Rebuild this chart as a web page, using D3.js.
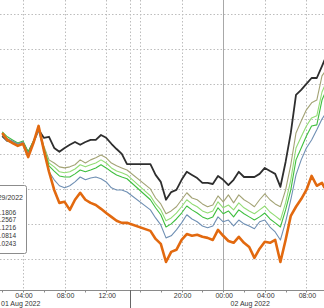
<!DOCTYPE html>
<html>
<head>
<meta charset="utf-8">
<script src="https://cdn.jsdelivr.net/npm/d3@7"></script>
<style>
  body { margin: 0; background: #fff; }
  svg { display: block; }
</style>
</head>
<body>
<div id="chart"></div>
<script>
// hours since 01 Aug 2022 00:00 (no prints between 14:00 and 17:00)
var hours = [2, 2.5, 3, 3.5, 4, 4.5, 5, 5.5, 6, 6.5, 7, 7.5, 8, 8.5, 9, 9.5, 10, 10.5, 11, 11.5, 12, 12.5, 13, 13.5, 14,
    17, 17.5, 18, 18.5, 19, 19.5, 20, 20.5, 21, 21.5, 22, 22.5, 23, 23.5, 24, 24.5, 25, 25.5, 26, 26.5, 27, 27.5,
    28, 28.5, 29, 29.5, 30, 30.5, 31, 31.5, 32, 32.5, 33, 33.5, 33.75];

// change in bp
var blackSeries = [5.1, 3.7, 3.4, 2.6, 3.1, 0.3, 3.4, 6.9, 4.6, 4.9, 1.7, 0.6, 1.7, 2.6, 3.4, 2.6, 3.4, 4.0, 4.0, 5.4, 4.6, 2.9, 1.4, 0, -2.9,
    -2.9, -6.0, -8.0, -13.1, -10.9, -10.3, -7.4, -5.1, -6.0, -6.9, -8.3, -8.3, -8.6, -6.3, -7.4, -8.9, -7.4, -5.1, -6.6, -6.6, -6.6, -5.7,
    -4.0, -4.9, -5.7, -9.4, -2.3, 6.0, 16.9, 18.3, 20.0, 21.7, 21.7, 25.1, 26.9];
var oliveSeries = [5.4, 3.7, 3.1, 2.3, 3.1, -0.3, 3.1, 7.4, 2.3, -1.7, -2.6, -3.7, -4.0, -3.7, -3.1, -1.7, -2.6, -1.7, -1.1, -0.3, -1.1, -2.6, -3.4, -4.0, -4.6,
    -10.0, -12.6, -14.3, -17.1, -16.3, -15.1, -13.1, -11.1, -12.6, -13.1, -14.3, -15.1, -14.6, -12.0, -13.7, -11.7, -14.0, -11.7, -13.1, -14.0, -15.1, -13.1,
    -11.4, -13.1, -14.3, -15.1, -10.3, -3.1, 6.0, 9.4, 12.6, 14.6, 15.4, 22.3, 23.4];
var lightGreenSeries = [5.7, 4.0, 3.4, 2.6, 3.4, 0, 3.4, 7.1, 2.0, -2.6, -3.7, -5.1, -5.4, -5.1, -4.3, -3.1, -3.7, -3.1, -2.6, -1.7, -2.6, -4.0, -4.9, -5.4, -6.0,
    -12.0, -14.3, -16.0, -19.1, -18.3, -16.9, -15.1, -13.1, -14.3, -15.1, -16.3, -16.9, -16.3, -13.7, -15.4, -14.6, -16.0, -14.0, -15.4, -16.3, -17.1, -16.0,
    -14.9, -16.6, -17.7, -18.9, -14.0, -7.4, 1.7, 4.9, 8.0, 10.3, 10.9, 17.7, 19.4];
var greenSeries = [6.3, 4.9, 4.0, 3.1, 3.7, 0.6, 3.7, 6.9, 1.7, -3.4, -4.9, -6.3, -6.6, -6.6, -5.7, -4.6, -5.1, -4.6, -4.0, -3.1, -4.0, -5.1, -6.0, -6.6, -7.1,
    -13.1, -15.4, -17.4, -20.9, -20.0, -18.6, -16.9, -14.9, -16.0, -16.9, -18.0, -18.6, -18.0, -15.4, -17.1, -16.3, -18.0, -16.0, -17.1, -18.0, -18.9, -18.0,
    -16.9, -18.6, -19.7, -20.9, -16.0, -10.3, -1.7, 1.7, 5.1, 8.0, 8.3, 15.4, 17.1];
var blueSeries = [5.7, 4.3, 3.7, 2.9, 3.4, 0, 3.4, 6.6, 1.1, -5.1, -7.4, -9.1, -9.7, -9.1, -8.0, -6.6, -7.4, -6.9, -6.6, -7.1, -8.0, -9.7, -10.3, -10.3, -10.9,
    -16.0, -18.3, -20.3, -24.0, -23.4, -21.7, -19.7, -17.4, -18.6, -19.4, -20.6, -21.1, -20.6, -18.0, -19.4, -18.9, -20.6, -18.9, -20.0, -20.6, -21.4, -19.4,
    -18.9, -20.9, -22.3, -24.6, -19.4, -13.1, -6.0, -1.7, 1.7, 4.0, 6.9, 10.0, 11.1];
var orangeSeries = [6.0, 4.0, 3.1, 2.3, 2.9, -0.9, 3.1, 8.0, 1.1, -5.1, -10.3, -14.0, -13.7, -16.0, -13.1, -11.1, -13.1, -14.0, -14.6, -15.7, -16.9, -18.0, -19.1, -19.7, -19.7,
    -22.0, -24.3, -25.7, -30.9, -28.0, -27.4, -24.6, -22.9, -23.4, -23.1, -23.7, -24.0, -24.6, -21.7, -23.4, -24.9, -25.4, -23.7, -25.4, -26.6, -29.7, -27.1,
    -25.1, -25.4, -24.6, -30.9, -24.6, -17.7, -15.1, -12.9, -10.3, -6.3, -9.1, -8.3, -9.7];

var seriesColors = ["#2e2e2e", "#a3a375", "#92dc74", "#3fbf3f", "#6f8fb3", "#e2690f"];
var seriesWidths = [1.8, 1.1, 1.1, 1.1, 1.1, 2.6];

// x axis labels
var tickHours = [4, 8, 12, 20, 24, 28, 32];
var tickLabels = ["04:00", "08:00", "12:00", "20:00", "00:00", "04:00", "08:00"];
var dateLabels = ["01 Aug 2022", "02 Aug 2022"];

// legend (left part is cut off in the original)
var legendTitle = "07/29/2022";
var legendValues = ["3.1806", "3.2567", "3.1216", "3.0814", "3.0243"];

function drawChart() {
    var svgWidth = 324;
    var svgHeight = 308;
    var axisY = 290;

    var svg = d3.select("#chart")
        .append("svg")
        .attr("width", svgWidth)
        .attr("height", svgHeight)
        .style("font-family", "'Liberation Sans', Arial, sans-serif");

    svg.append("rect")
        .attr("width", svgWidth)
        .attr("height", svgHeight)
        .attr("fill", "#fff");

    // session gap is squeezed between 14:15 and 16:00
    var x = d3.scaleLinear()
        .domain([0, 14.25, 16, 34])
        .range([-18.6, 129.6, 140, 327.2]);

    var y = d3.scaleLinear()
        .domain([-38.9, 44])
        .range([axisY, 0]);

    // horizontal grid
    svg.append("g")
        .selectAll("line")
        .data([-30, -20, -10, 0, 10, 20, 30, 40])
        .enter()
        .append("line")
        .attr("x1", 0)
        .attr("x2", svgWidth)
        .attr("y1", d => Math.round(y(d)) + 0.5)
        .attr("y2", d => Math.round(y(d)) + 0.5)
        .attr("stroke", "#bdbdbd")
        .attr("stroke-dasharray", "1.5,2");

    // vertical grid
    var gridHours = [4, 8, 12, 14.25, 16, 20, 28, 32];
    svg.append("g")
        .selectAll("line")
        .data(gridHours)
        .enter()
        .append("line")
        .attr("x1", d => Math.round(x(d)) + 0.5)
        .attr("x2", d => Math.round(x(d)) + 0.5)
        .attr("y1", 0)
        .attr("y2", axisY)
        .attr("stroke", "#bdbdbd")
        .attr("stroke-dasharray", "1.5,2");

    // day break at midnight
    svg.append("line")
        .attr("x1", Math.round(x(24)) + 0.5)
        .attr("x2", Math.round(x(24)) + 0.5)
        .attr("y1", 0)
        .attr("y2", axisY)
        .attr("stroke", "#a8a8a8");

    // lines
    var line = d3.line()
        .x((d, i) => x(hours[i]))
        .y(d => y(d));

    var allSeries = [blackSeries, oliveSeries, lightGreenSeries, greenSeries, blueSeries, orangeSeries];
    svg.append("g")
        .selectAll("path")
        .data(allSeries)
        .enter()
        .append("path")
        .attr("d", line)
        .attr("fill", "none")
        .attr("stroke", (d, i) => seriesColors[i])
        .attr("stroke-width", (d, i) => seriesWidths[i])
        .attr("stroke-linejoin", "round");

    // x axis
    svg.append("line")
        .attr("x1", 0)
        .attr("x2", svgWidth)
        .attr("y1", axisY + 0.5)
        .attr("y2", axisY + 0.5)
        .attr("stroke", "#8a8a8a");

    svg.append("g")
        .selectAll("line")
        .data(d3.range(2, 34, 2).filter(h => h < 14 || h > 15))
        .enter()
        .append("line")
        .attr("x1", d => Math.round(x(d)) + 0.5)
        .attr("x2", d => Math.round(x(d)) + 0.5)
        .attr("y1", axisY)
        .attr("y2", axisY + 2.5)
        .attr("stroke", "#8a8a8a");

    svg.append("line")
        .attr("x1", Math.round(x(14.25)) + 0.5)
        .attr("x2", Math.round(x(14.25)) + 0.5)
        .attr("y1", axisY)
        .attr("y2", svgHeight)
        .attr("stroke", "#666");

    svg.append("g")
        .selectAll("text")
        .data(tickHours)
        .enter()
        .append("text")
        .attr("x", d => x(d) + 1)
        .attr("y", 297.5)
        .attr("text-anchor", "middle")
        .attr("font-size", "7px")
        .attr("fill", "#333")
        .text((d, i) => tickLabels[i]);

    svg.append("text")
        .attr("x", 1)
        .attr("y", 306)
        .attr("font-size", "7px")
        .attr("fill", "#333")
        .text(dateLabels[0]);

    svg.append("text")
        .attr("x", x(26.6))
        .attr("y", 306)
        .attr("text-anchor", "middle")
        .attr("font-size", "7px")
        .attr("fill", "#333")
        .text(dateLabels[1]);

    // legend box
    var legend = svg.append("g");
    legend.append("rect")
        .attr("x", -10.5)
        .attr("y", 185.5)
        .attr("width", 37)
        .attr("height", 68)
        .attr("rx", 2)
        .attr("fill", "#fff")
        .attr("stroke", "#8c8c8c");

    legend.append("text")
        .attr("x", 23)
        .attr("y", 199.5)
        .attr("text-anchor", "end")
        .attr("font-size", "7px")
        .attr("fill", "#333")
        .text(legendTitle);

    legend.selectAll(".lv")
        .data(legendValues)
        .enter()
        .append("text")
        .attr("class", "lv")
        .attr("x", 16)
        .attr("y", (d, i) => 214.5 + i * 7.8)
        .attr("text-anchor", "end")
        .attr("font-size", "6.5px")
        .attr("fill", "#333")
        .text(d => d);
}

drawChart();
</script>
</body>
</html>
